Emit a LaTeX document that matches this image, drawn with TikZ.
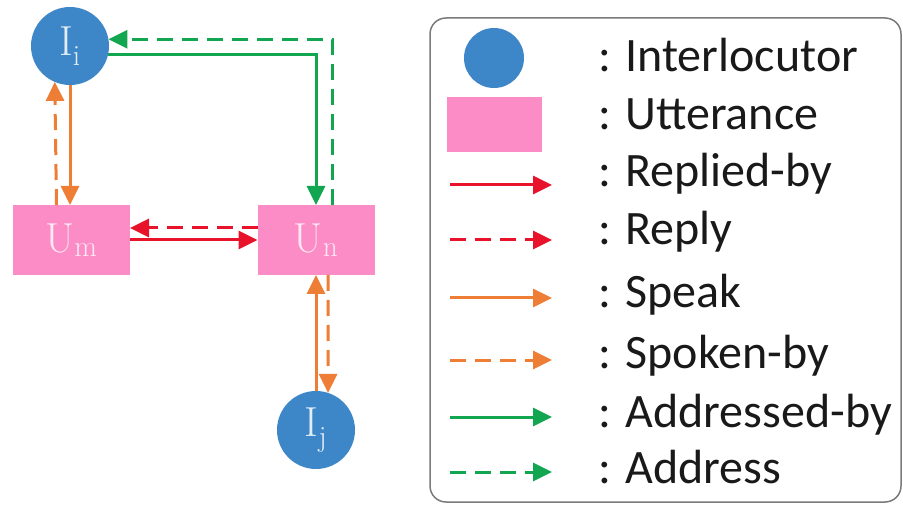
\documentclass[tikz,border=0pt]{standalone}
\usepackage{fontspec}
\newfontfamily\legendfont{Carlito}
\usetikzlibrary{arrows.meta,calc}
\definecolor{iblue}{HTML}{3D87C9}
\definecolor{upink}{HTML}{FB8CC6}
\definecolor{rred}{HTML}{E8132B}
\definecolor{sorange}{HTML}{EE7D36}
\definecolor{agreen}{HTML}{12A650}
\definecolor{frame}{HTML}{7A7A7A}
\tikzset{
  x=1pt, y=1pt,
  interloc/.style={circle, fill=iblue, minimum size=78pt, inner sep=0pt, outer sep=0pt,
    text=white, text opacity=0.85, font=\fontsize{42}{46}\selectfont},
  utter/.style={rectangle, fill=upink, minimum width=117pt, minimum height=70pt, inner sep=0pt, outer sep=0pt,
    text=white, text opacity=0.8, font=\fontsize{42}{46}\selectfont},
  link/.style={line width=3pt, -{Triangle[length=19pt,width=18pt]}},
  dashlink/.style={link, dash pattern=on 16pt off 9pt},
  legtext/.style={anchor=base west, inner sep=0pt, font=\fontsize{48}{52}\legendfont, text=black!90},
}
\begin{document}
\begin{tikzpicture}
\useasboundingbox (0,0) rectangle (903,-505);

% graph nodes
\node[interloc] (Ii) at (70,-46) {$\mathrm{I}_{\mathrm{i}}$};
\node[utter] (Um) at (71.5,-240) {$\mathrm{U}_{\mathrm{m}}$};
\node[utter] (Un) at (316,-240) {$\mathrm{U}_{\mathrm{n}}$};
\node[interloc] (Ij) at (316,-430) {$\mathrm{I}_{\mathrm{j}}$};

% speak / spoken-by between I_i and U_m
\draw[link, sorange] (Ii.south) -- (Ii.south |- Um.north);
\draw[dashlink, sorange] ([xshift=-15pt]Um.north) -- (Ii.247);

% addressed-by / address between I_i and U_n
\draw[link, agreen] (Ii.-12) -| (Un.north);
\draw[dashlink, agreen] ([xshift=16pt]Un.north) |- (Ii.10);

% replied-by / reply between U_m and U_n
\draw[dashlink, rred] ([yshift=12pt]Un.west) -- ([yshift=12pt]Um.east);
\draw[link, rred] (Um.east) -- (Un.west);

% speak / spoken-by between I_j and U_n
\draw[link, sorange] (Ij.north) -- (Un.south);
\draw[dashlink, sorange] ([xshift=12pt]Un.south) -- (Ij.72);

% legend frame
\draw[frame, line width=1.5pt, rounded corners=16pt] (430,-18) rectangle (901,-502);

\node[circle, fill=iblue, minimum size=60pt, inner sep=0pt] (legI) at (494,-58) {};
\node[rectangle, fill=upink, minimum width=95pt, minimum height=55pt, inner sep=0pt] (legU) at (494.5,-124.5) {};

\foreach \y/\name in {-185/a, -240/b, -298/c, -360/d, -417/e, -472/f} {
  \coordinate (s\name) at (450,\y);
  \coordinate (e\name) at (552,\y);
}
\draw[link, rred] (sa) -- (ea);
\draw[dashlink, rred] (sb) -- (eb);
\draw[link, sorange] (sc) -- (ec);
\draw[dashlink, sorange] (sd) -- (ed);
\draw[link, agreen] (se) -- (ee);
\draw[dashlink, agreen] (sf) -- (ef);

\node[legtext] (t1) at (598,-72) {: Interlocutor};
\node[legtext] (t2) at (598,-130) {: Utterance};
\node[legtext] (t3) at (598,-187) {: Replied-by};
\node[legtext] (t4) at (598,-245) {: Reply};
\node[legtext] (t5) at (598,-308) {: Speak};
\node[legtext] (t6) at (598,-368) {: Spoken-by};
\node[legtext] (t7) at (598,-427) {: Addressed-by};
\node[legtext] (t8) at (598,-483) {: Address};
\end{tikzpicture}
\end{document}
